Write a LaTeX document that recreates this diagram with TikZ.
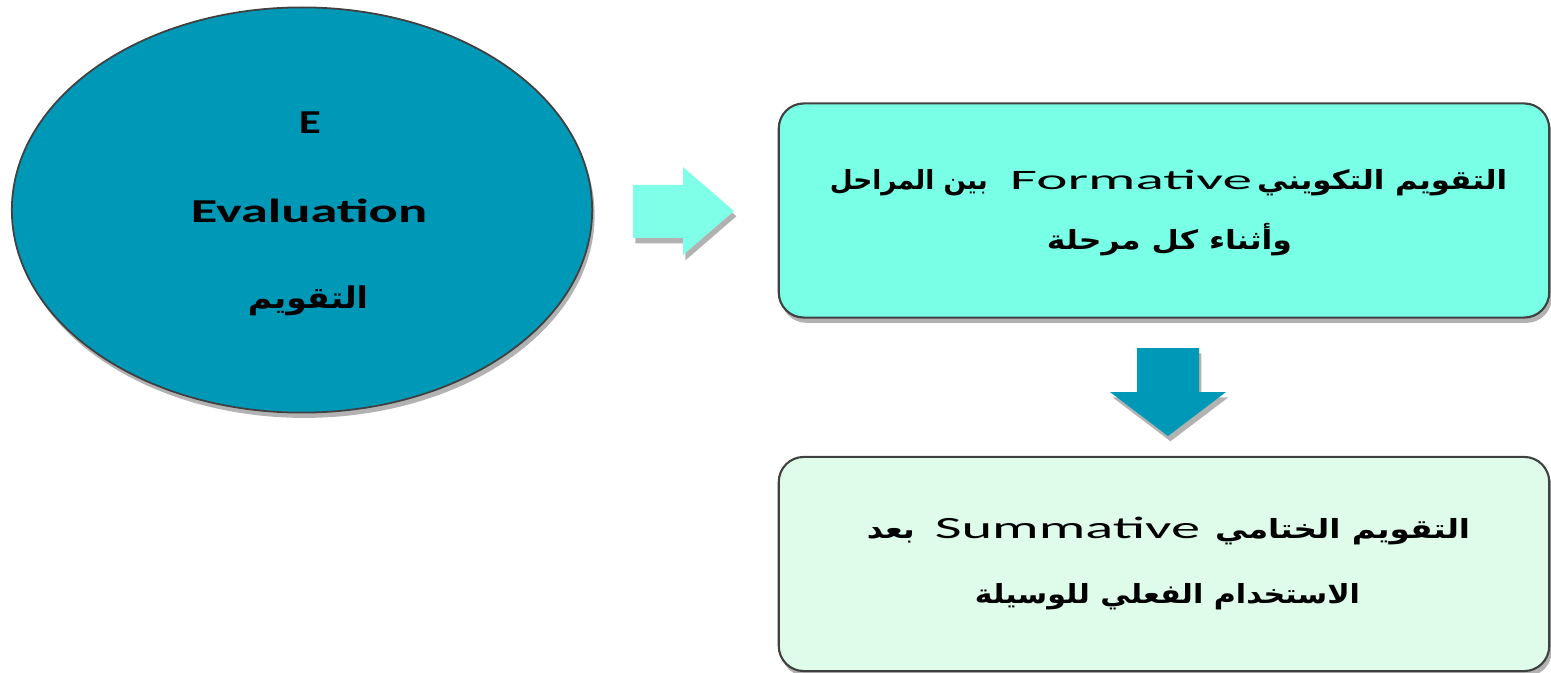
\documentclass[tikz,border=0pt]{standalone}
\usepackage{fontspec}
\setmainfont{Carlito}
\newfontfamily\arabicfont[Script=Arabic]{DejaVu Sans}
\TeXXeTstate=1
\usetikzlibrary{shapes.geometric,shadows}
\definecolor{ellblue}{RGB}{0,152,183}
\definecolor{aqua}{RGB}{120,255,230}
\definecolor{aqualight}{RGB}{128,255,232}
\definecolor{mint}{RGB}{222,252,233}
\definecolor{edgegray}{RGB}{64,64,64}
% Arabic part: width, font size, text (text carries its own \beginR ... \endR)
\newcommand\arb[3]{\resizebox{#1}{\height}{\fontsize{#2}{10}\selectfont\arabicfont\bfseries #3}}
% Latin part: width, font size, text
\newcommand\lat[3]{\resizebox{#1}{\height}{\fontsize{#2}{10}\selectfont #3}}
\begin{document}
\begin{tikzpicture}[x=0.01cm,y=-0.01cm,
  shadowed/.style={drop shadow={shadow xshift=0.7pt,shadow yshift=-1.5pt,opacity=0.3,fill=black}},
  stagebox/.style={draw=edgegray,line width=0.6pt,rounded corners=0.25cm,minimum width=7.7cm,minimum height=2.14cm,shadowed},
  lbl/.style={inner sep=0pt,text=black,anchor=base}]
\useasboundingbox (0,0) rectangle (1551,673);
% main ellipse
\node[ellipse,draw=edgegray,line width=0.5pt,fill=ellblue,minimum width=5.8cm,minimum height=4.05cm,shadowed] (ell) at (302,210) {};
\node[lbl] (eE) at (310,134) {\lat{0.22cm}{9.5}{\bfseries E}};
\node[lbl] (eEval) at (309,223) {\lat{2.36cm}{9.5}{\bfseries Evaluation}};
\node[lbl] (eAr) at (308,309) {\arb{1.20cm}{8.5}{\beginR التقويم\endR}};
% boxes
\node[stagebox,fill=aqua] (box1) at (1164,210.5) {};
\node[stagebox,fill=mint] (box2) at (1164,564) {};
\node[lbl] (b1a) at (1168.5,190) {\arb{1.58cm}{7.5}{\beginR بين المراحل\endR}\hspace{0.22cm}\lat{2.42cm}{8}{Formative}\hspace{0.05cm}\arb{2.50cm}{7.5}{\beginR التقويم التكويني\endR}};
\node[lbl] (b1b) at (1169.5,250) {\arb{2.45cm}{7.5}{\beginR وأثناء كل مرحلة\endR}};
\node[lbl] (b2a) at (1168.5,538) {\arb{0.48cm}{7.5}{\beginR بعد\endR}\hspace{0.20cm}\lat{2.65cm}{8.8}{Summative}\hspace{0.15cm}\arb{2.55cm}{7.5}{\beginR التقويم الختامي\endR}};
\node[lbl] (b2b) at (1167.5,603) {\arb{3.85cm}{7.5}{\beginR الاستخدام الفعلي للوسيلة\endR}};
% block arrows
\fill[aqualight,shadowed] (633,185) -- (683,185) -- (683,167) -- (734,211) -- (683,255) -- (683,238) -- (633,238) -- cycle;
\fill[ellblue,shadowed] (1137,348) -- (1199,348) -- (1199,392) -- (1226,392) -- (1168,436) -- (1110,392) -- (1137,392) -- cycle;
\end{tikzpicture}
\end{document}
